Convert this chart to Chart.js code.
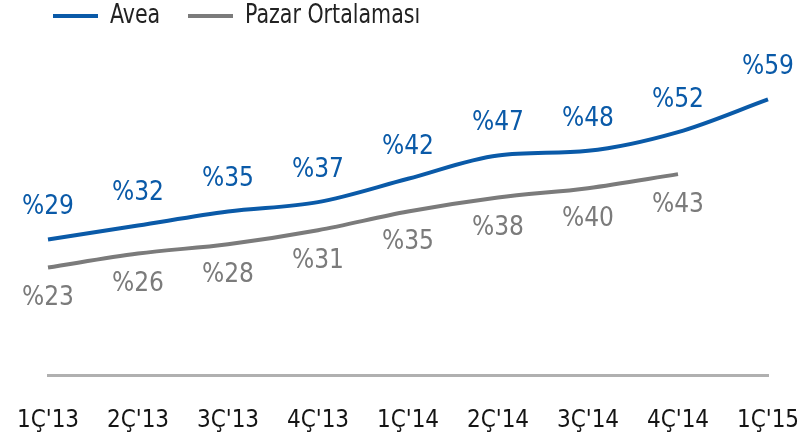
<!DOCTYPE html>
<html>
<head>
<meta charset="utf-8">
<script src="https://cdn.jsdelivr.net/npm/chart.js@4"></script>
<style>
  html, body { margin: 0; padding: 0; background: #fff; }
  #wrap { width: 811px; height: 437px; }
</style>
</head>
<body>
<div id="wrap"><canvas id="chart"></canvas></div>
<script>
const labels = ["1Ç'13", "2Ç'13", "3Ç'13", "4Ç'13", "1Ç'14", "2Ç'14", "3Ç'14", "4Ç'14", "1Ç'15"];
const avea = [29, 32, 35, 37, 42, 47, 48, 52, 59];
const pazar = [23, 26, 28, 31, 35, 38, 40, 43, null];

const FONT = "'Liberation Sans Narrow', 'DejaVu Sans Condensed', 'Roboto Condensed', Roboto, sans-serif";
const BLUE = "#0a5aa8";
const GRAY = "#7b7b7b";

// value labels + hand drawn legend
const valueLabels = {
  id: "valueLabels",
  afterDatasetsDraw(chart) {
    const ctx = chart.ctx;
    ctx.save();
    ctx.font = "26px " + FONT;
    ctx.textAlign = "center";
    ctx.textBaseline = "middle";
    chart.data.datasets.forEach((ds, i) => {
      const meta = chart.getDatasetMeta(i);
      meta.data.forEach((pt, j) => {
        const v = ds.data[j];
        if (v == null) return;
        ctx.fillStyle = ds.borderColor;
        const dy = i === 0 ? -32 : 31;
        ctx.fillText("%" + v, pt.x, pt.y + dy);
      });
    });

    // legend
    ctx.textAlign = "left";
    ctx.lineWidth = 4;
    const items = [[53, 110, BLUE, "Avea"], [188, 245, GRAY, "Pazar Ortalaması"]];
    items.forEach(([lx, tx, col, name]) => {
      ctx.strokeStyle = col;
      ctx.beginPath();
      ctx.moveTo(lx, 16);
      ctx.lineTo(lx + 45, 16);
      ctx.stroke();
      ctx.save();
      ctx.translate(tx, 16);
      ctx.scale(0.88, 1);
      ctx.fillStyle = "#222";
      ctx.fillText(name, 0, 0);
      ctx.restore();
    });
    ctx.restore();
  }
};

new Chart(document.getElementById("chart"), {
  type: "line",
  data: {
    labels: labels,
    datasets: [
      {
        label: "Avea",
        data: avea,
        borderColor: BLUE,
        backgroundColor: BLUE,
        borderWidth: 4,
        pointRadius: 0,
        cubicInterpolationMode: "monotone",
      },
      {
        label: "Pazar Ortalaması",
        data: pazar,
        borderColor: GRAY,
        backgroundColor: GRAY,
        borderWidth: 4,
        pointRadius: 0,
        cubicInterpolationMode: "monotone",
      },
    ],
  },
  options: {
    responsive: true,
    maintainAspectRatio: false,
    animation: false,
    layout: { padding: { left: 48, right: 43, top: 48, bottom: 2 } },
    plugins: {
      legend: { display: false },
      tooltip: { enabled: false },
    },
    scales: {
      x: {
        grid: { display: false, drawTicks: false },
        border: { display: true, color: "#b0b0b0", width: 3 },
        ticks: {
          color: "#151515",
          font: { family: FONT, size: 24 },
          padding: 31,
          maxRotation: 0,
          autoSkip: false,
        },
        afterFit(scale) {
          scale.height = 60;
          scale.paddingLeft = 0;
          scale.paddingRight = 0;
        },
      },
      y: {
        display: false,
        min: 0,
        max: 70,
      },
    },
  },
  plugins: [valueLabels],
});
</script>
</body>
</html>
